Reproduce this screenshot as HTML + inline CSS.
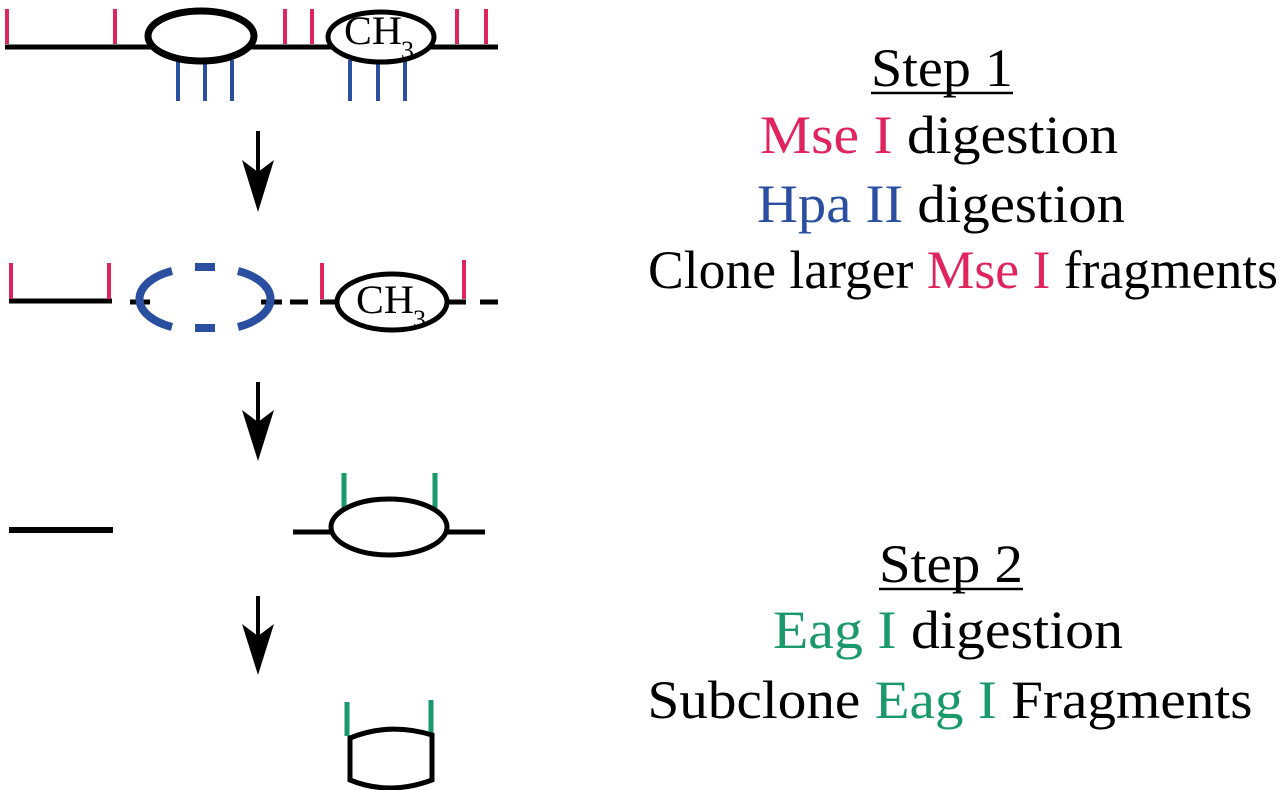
<!DOCTYPE html>
<html><head><meta charset="utf-8"><style>html,body{margin:0;padding:0;background:#fff}svg{display:block}</style></head>
<body>
<svg width="1280" height="790" viewBox="0 0 1280 790" xmlns="http://www.w3.org/2000/svg">
<g stroke-linecap="butt" fill="none">
<!-- Row 1 -->
<line x1="5" y1="47" x2="498" y2="47" stroke="#000" stroke-width="5"/>
<g stroke="#e0245e" stroke-width="4">
<line x1="7" y1="9" x2="7" y2="44"/><line x1="115" y1="9" x2="115" y2="44"/>
<line x1="285" y1="9" x2="285" y2="44"/><line x1="312" y1="9" x2="312" y2="44"/>
<line x1="457" y1="9" x2="457" y2="44"/><line x1="486" y1="9" x2="486" y2="44"/>
</g>
<g stroke="#2a4fa0" stroke-width="4">
<line x1="178" y1="60" x2="178" y2="101"/><line x1="205" y1="60" x2="205" y2="101"/><line x1="232" y1="60" x2="232" y2="101"/>
<line x1="350" y1="60" x2="350" y2="101"/><line x1="378" y1="60" x2="378" y2="101"/><line x1="405" y1="60" x2="405" y2="101"/>
</g>
<ellipse cx="201" cy="36" rx="53" ry="25" fill="#fff" stroke="#000" stroke-width="7"/>
<ellipse cx="381" cy="37" rx="53" ry="25" fill="#fff" stroke="#000" stroke-width="5"/>
</g>
<text x="344" y="44" font-family="Liberation Serif, serif" font-size="40" textLength="58" lengthAdjust="spacingAndGlyphs">CH</text>
<text x="401" y="59" font-family="Liberation Serif, serif" font-size="26">3</text>

<!-- arrows -->
<g stroke="#000" stroke-width="4">
<line x1="258" y1="131" x2="258" y2="190"/>
<line x1="258" y1="382" x2="258" y2="440"/>
<line x1="258" y1="596" x2="258" y2="655"/>
</g>
<g fill="#000">
<path d="M242,160 L258,172 L274,160 L258,212 Z"/>
<path d="M242,410 L258,422 L274,410 L258,461 Z"/>
<path d="M242,624 L258,636 L274,624 L258,675 Z"/>
</g>

<!-- Row 2 -->
<g fill="none">
<g stroke="#000" stroke-width="5">
<line x1="9" y1="301" x2="112" y2="301"/>
<line x1="130" y1="302" x2="150" y2="302"/>
<line x1="261" y1="302" x2="282" y2="302"/>
<line x1="290" y1="302" x2="308" y2="302"/>
<line x1="320" y1="302" x2="338" y2="302"/>
<line x1="446" y1="302" x2="466" y2="302"/>
<line x1="480" y1="302" x2="498" y2="302"/>
</g>
<g stroke="#e0245e" stroke-width="4">
<line x1="11" y1="263" x2="11" y2="299"/><line x1="109" y1="263" x2="109" y2="299"/>
<line x1="322" y1="263" x2="322" y2="299"/><line x1="464" y1="260" x2="464" y2="299"/>
</g>
<g stroke="#2a4fa0" stroke-width="8">
<path d="M172,271 A57,31 0 0 0 172,327"/>
<path d="M238,271 A57,31 0 0 1 238,327"/>
<line x1="195" y1="267" x2="215" y2="267"/>
<line x1="195" y1="328" x2="215" y2="328"/>
</g>
<ellipse cx="392" cy="302" rx="55" ry="28" fill="#fff" stroke="#000" stroke-width="5"/>
</g>
<text x="356" y="313" font-family="Liberation Serif, serif" font-size="40" textLength="58" lengthAdjust="spacingAndGlyphs">CH</text>
<text x="413" y="328" font-family="Liberation Serif, serif" font-size="26">3</text>

<!-- Row 3 -->
<g fill="none">
<line x1="9" y1="530" x2="113" y2="530" stroke="#000" stroke-width="6"/>
<line x1="293" y1="532" x2="332" y2="532" stroke="#000" stroke-width="5"/>
<line x1="446" y1="532" x2="485" y2="532" stroke="#000" stroke-width="5"/>
<g stroke="#1a9a6a" stroke-width="5">
<line x1="344" y1="473" x2="344" y2="508"/><line x1="435" y1="473" x2="435" y2="508"/>
</g>
<ellipse cx="389" cy="527" rx="58" ry="28" fill="#fff" stroke="#000" stroke-width="5"/>
</g>

<!-- Row 4 -->
<g fill="none">
<g stroke="#1a9a6a" stroke-width="5">
<line x1="347" y1="702" x2="347" y2="736"/><line x1="431" y1="700" x2="431" y2="733"/>
</g>
<path d="M350,738 L350,780 Q389,796 432,780 L432,735 Q389,722 350,738 Z" stroke="#000" stroke-width="5"/>
</g>

<!-- Text -->
<g font-family="Liberation Serif, serif" font-size="54" text-anchor="middle" fill="#000">
<text x="942" y="86" textLength="142" lengthAdjust="spacingAndGlyphs">Step 1</text>
<line x1="871" y1="93" x2="1013" y2="93" stroke="#000" stroke-width="2.5"/>
<text x="939" y="153" textLength="358" lengthAdjust="spacingAndGlyphs"><tspan fill="#e0245e">Mse I</tspan> digestion</text>
<text x="941" y="222" textLength="368" lengthAdjust="spacingAndGlyphs"><tspan fill="#2a4fa0">Hpa II</tspan> digestion</text>
<text x="963" y="288" textLength="630" lengthAdjust="spacingAndGlyphs">Clone larger <tspan fill="#e0245e">Mse I</tspan> fragments</text>
<text x="951" y="582" textLength="144" lengthAdjust="spacingAndGlyphs">Step 2</text>
<line x1="879" y1="589" x2="1023" y2="589" stroke="#000" stroke-width="2.5"/>
<text x="948" y="648" textLength="350" lengthAdjust="spacingAndGlyphs"><tspan fill="#1a9a6a">Eag I</tspan> digestion</text>
<text x="950" y="718" textLength="605" lengthAdjust="spacingAndGlyphs">Subclone <tspan fill="#1a9a6a">Eag I</tspan> Fragments</text>
</g>
</svg>
</body></html>
